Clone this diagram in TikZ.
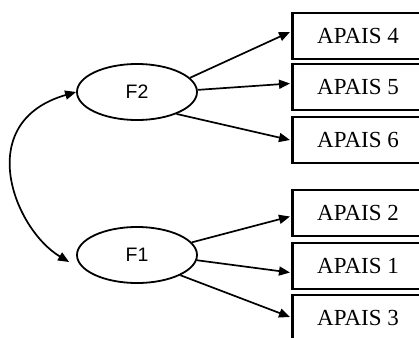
\documentclass[tikz,border=0pt]{standalone}
\usepackage{fontspec}
\setmainfont{Liberation Serif}
\newfontfamily\arialfont{Liberation Sans}
\usetikzlibrary{shapes.geometric,arrows.meta}
\begin{document}
\begin{tikzpicture}[x=1pt,y=-1pt,
  itembox/.style={draw,line width=2pt,rectangle,anchor=west,minimum width=130pt,minimum height=46pt,inner sep=0pt,font=\fontsize{23}{23}\selectfont},
  factor/.style={draw,line width=1.8pt,ellipse,minimum width=120pt,minimum height=56pt,inner sep=0pt,font=\arialfont\fontsize{19.5}{19.5}\selectfont},
  path/.style={line width=1.7pt,-{Triangle[length=11pt,width=9pt]}},
  cov/.style={line width=1.7pt,{Triangle[length=11pt,width=9pt]}-{Triangle[length=11pt,width=9pt]}},
  edge/.style={line width=2.8pt}]
\useasboundingbox (0,0) rectangle (419,337);
\clip (0,0) rectangle (419,337);
\node[itembox] (a4) at (292,36) {APAIS 4};
\node[itembox] (a5) at (292,86.5) {APAIS 5};
\node[itembox] (a6) at (292,140) {APAIS 6};
\node[itembox] (a2) at (292,212.5) {APAIS 2};
\node[itembox] (a1) at (292,265.5) {APAIS 1};
\node[itembox] (a3) at (292,318) {APAIS 3};
\foreach \b in {a4,a5,a6,a2,a1,a3}{\draw[edge] (\b.north west) -- (\b.south west);}
\node[factor] (f2) at (137,92) {F2};
\node[factor] (f1) at (137,255) {F1};
\draw[path] (f2.15) -- ([xshift=-2pt,yshift=4pt]a4.west);
\draw[path] (f2.2) -- ([xshift=-2pt,yshift=3pt]a5.west);
\draw[path] (f2.-29) -- ([xshift=-2pt]a6.west);
\draw[path] (f1.13) -- ([xshift=-2pt,yshift=-4pt]a2.west);
\draw[path] (f1.-5) -- ([xshift=-2pt,yshift=-7pt]a1.west);
\draw[path] (f1.-25) -- ([xshift=-2pt,yshift=1pt]a3.west);
\coordinate (t1) at ([xshift=-7pt,yshift=-7pt]f1.west);
\draw[cov] (f2.west) .. controls (-28,122) and (14,229) .. (t1);
\end{tikzpicture}
\end{document}
